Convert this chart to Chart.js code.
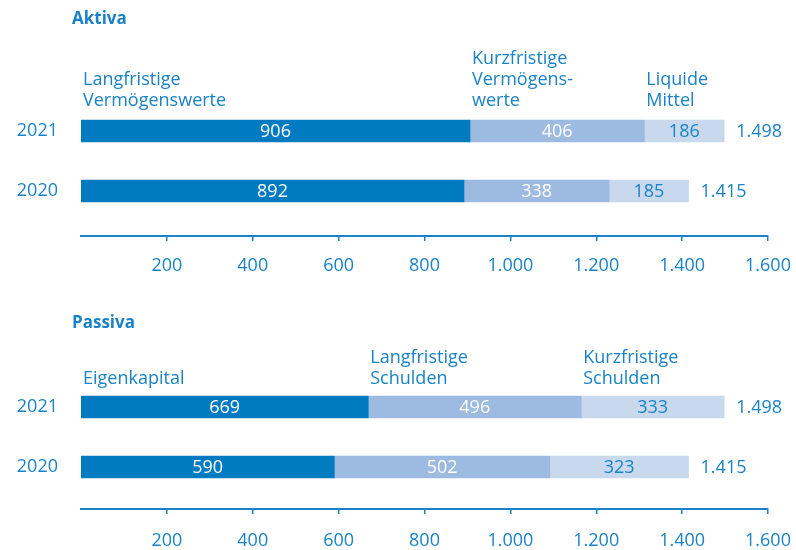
<!DOCTYPE html>
<html><head><meta charset="utf-8">
<script src="https://cdn.jsdelivr.net/npm/chart.js@4.4.0/dist/chart.umd.min.js"></script>
<style>
html,body{margin:0;padding:0;background:#fff;overflow:hidden;width:796px;height:550px;}
#w1{position:absolute;left:0;top:0;width:796px;height:290px;}
#w2{position:absolute;left:0;top:290px;width:796px;height:260px;}
canvas{display:block;}
</style></head><body>
<div id="w1"><canvas id="c1"></canvas></div>
<div id="w2"><canvas id="c2"></canvas></div>
<script>
// ---- data ----
const years = ['2021', '2020'];
const xTickValues = [200, 400, 600, 800, 1000, 1200, 1400, 1600];

const aktivaTitle = 'Aktiva';
const aktivaNames = [['Langfristige', 'Vermögenswerte'], ['Kurzfristige', 'Vermögens-', 'werte'], ['Liquide', 'Mittel']];
const langfristigeVermoegenswerte = [906, 892];
const kurzfristigeVermoegenswerte = [406, 338];
const liquideMittel = [186, 185];
const aktivaTotals = [1498, 1415];

const passivaTitle = 'Passiva';
const passivaNames = [['Eigenkapital'], ['Langfristige', 'Schulden'], ['Kurzfristige', 'Schulden']];
const eigenkapital = [669, 590];
const langfristigeSchulden = [496, 502];
const kurzfristigeSchulden = [333, 323];
const passivaTotals = [1498, 1415];

// ---- style ----
const BLUE = '#1a82c6';
const DARK = '#007bc2';
const MID = '#9dbbe1';
const LIGHT = '#c8d9ee';
const FAM = '"Open Sans", "DejaVu Sans", sans-serif';
const FS = 18;

function fmt(v) {
  return String(Math.round(v)).replace(/\B(?=(\d{3})+(?!\d))/g, '.');
}

const labelPlugin = {
  id: 'bsLabels',
  afterDatasetsDraw(chart, args, opts) {
    const ctx = chart.ctx;
    const xs = chart.scales.x;
    ctx.save();
    ctx.font = FS + 'px ' + FAM;
    ctx.textBaseline = 'middle';
    // values inside segments
    chart.data.datasets.forEach((ds, di) => {
      const meta = chart.getDatasetMeta(di);
      meta.data.forEach((bar, i) => {
        ctx.fillStyle = ds.valueColor;
        ctx.textAlign = 'center';
        ctx.fillText(fmt(ds.data[i]), (bar.x + bar.base) / 2, bar.y + 1);
      });
    });
    // totals
    const lastMeta = chart.getDatasetMeta(chart.data.datasets.length - 1);
    opts.totals.forEach((t, i) => {
      const bar = lastMeta.data[i];
      ctx.fillStyle = BLUE;
      ctx.textAlign = 'left';
      ctx.fillText(fmt(t), xs.getPixelForValue(t) + 12, bar.y + 1);
    });
    // series names above the first bar
    ctx.fillStyle = BLUE;
    ctx.textAlign = 'left';
    chart.data.datasets.forEach((ds, di) => {
      const bar = chart.getDatasetMeta(di).data[0];
      const lines = ds.nameLines;
      const x = Math.min(bar.x, bar.base) + 2;
      const top = bar.y - bar.height / 2;
      lines.forEach((ln, k) => {
        ctx.fillText(ln, x, top - opts.nameGap - (lines.length - 1 - k) * 21);
      });
    });
    // panel title
    ctx.font = 'bold 17px ' + FAM;
    ctx.fillText(opts.title, 72, opts.titleY);
    ctx.restore();
  }
};

function makeChart(id, names, series, totals, title, titleY, padTop, padBottom, extraRange, nameGap, tickPad) {
  const colors = [DARK, MID, LIGHT];
  const valueColors = ['#ffffff', '#ffffff', BLUE];
  return new Chart(document.getElementById(id), {
    type: 'bar',
    data: {
      labels: years,
      datasets: series.map((s, i) => ({
        label: names[i].join(' '),
        nameLines: names[i],
        valueColor: valueColors[i],
        data: s,
        backgroundColor: colors[i],
        borderWidth: 0,
        barThickness: 22
      }))
    },
    options: {
      indexAxis: 'y',
      responsive: true,
      maintainAspectRatio: false,
      animation: false,
      layout: { padding: { top: padTop, bottom: padBottom, left: 0, right: 28 } },
      plugins: {
        legend: { display: false },
        tooltip: { enabled: false },
        bsLabels: { totals: totals, title: title, titleY: titleY, nameGap: nameGap }
      },
      scales: {
        x: {
          type: 'linear', stacked: true, min: 0, max: 1600,
          afterBuildTicks: (s) => { s.ticks = xTickValues.map(v => ({ value: v })); },
          afterFit: (s) => { s.height = 40; s.paddingLeft = 0; s.paddingRight = 0; },
          grid: { display: true, drawOnChartArea: false, drawTicks: true, tickLength: 5, color: BLUE, lineWidth: 1.5 },
          border: { display: true, color: BLUE, width: 2 },
          ticks: { color: BLUE, font: { family: FAM, size: FS }, padding: tickPad, maxRotation: 0, autoSkip: false,
                   callback: (v) => fmt(v) }
        },
        y: {
          type: 'category', stacked: true,
          afterBuildTicks: (s) => { s._valueRange += extraRange; },
          afterFit: (s) => { s.width = 81; s.paddingTop = 0; s.paddingBottom = 0; },
          grid: { display: false, drawTicks: false },
          border: { display: false },
          ticks: { color: BLUE, font: { family: FAM, size: FS }, padding: 23 }
        }
      }
    },
    plugins: [labelPlugin]
  });
}

makeChart('c1', aktivaNames, [langfristigeVermoegenswerte, kurzfristigeVermoegenswerte, liquideMittel],
  aktivaTotals, aktivaTitle, 19, 101, 14, 0.25, 19, 14);
makeChart('c2', passivaNames, [eigenkapital, langfristigeSchulden, kurzfristigeSchulden],
  passivaTotals, passivaTitle, 33, 87, 1, 0.2, 17, 16);
</script>
</body></html>
